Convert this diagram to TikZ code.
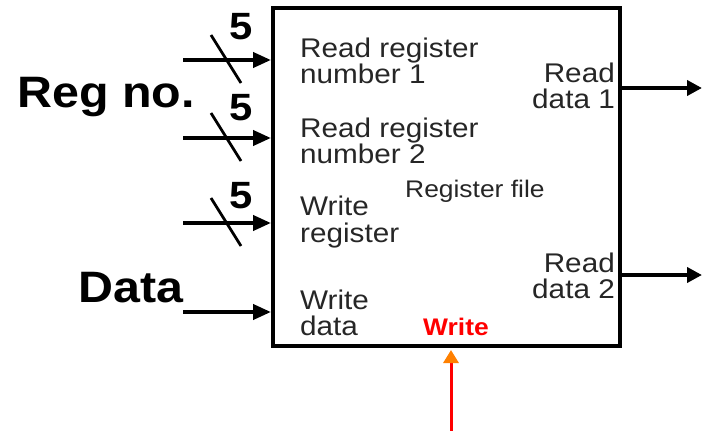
\documentclass[tikz,border=0pt]{standalone}
\usepackage{fontspec}
\setmainfont{Liberation Sans}[FakeStretch=1.1]
\usetikzlibrary{arrows.meta, positioning}

\begin{document}
\begin{tikzpicture}[x=1pt,y=-1pt,line join=miter,
    bus/.style={-{Triangle[length=18pt,width=15pt]}, line width=4pt},
    outbus/.style={-{Triangle[length=15pt,width=15pt]}, line width=4pt},
    port/.style={font=\fontsize{27}{26.5}\selectfont, text=black!85, inner sep=0pt},
    biglabel/.style={font=\fontsize{44}{44}\selectfont\bfseries, inner sep=0pt},
    bits/.style={font=\fontsize{38}{38}\selectfont\bfseries, inner sep=0pt}]
    \useasboundingbox (0,0) rectangle (702,431);

    % the register file itself
    \node[draw, line width=4pt, minimum width=347pt, minimum height=338pt, inner sep=0pt] (rf) at (446.5,177) {};
    \node[font=\fontsize{24}{24}\selectfont, text=black!85, anchor=west, inner sep=0pt] (title) at (405,191) {Register file};

    % 5-bit register number inputs
    \foreach \n/\y/\fy in {1/60/27, 2/138/108, 3/223/196} {
      \coordinate (in\n) at (183,\y);
      \draw[bus] (in\n) -- (in\n -| rf.west);
      \draw[line width=2.8pt] ([shift={(28,-25)}]in\n) -- ([shift={(58,23)}]in\n); % bus width slash
      \node[bits] (w\n) at (241,\fy) {5};
    }

    % data input
    \coordinate (in4) at (183,312);
    \draw[bus] (in4) -- (in4 -| rf.west);

    % left labels
    \node[biglabel] (regno) at (106,97) {Reg no.};
    \node[biglabel, anchor=east] (data) at (184,288) {Data};

    % port names inside the box
    \node[port, align=left, anchor=west] (rr1) at (300,61) {Read register\\number 1};
    \node[port, align=left, anchor=west] (rr2) at (300,141) {Read register\\number 2};
    \node[port, align=left, anchor=west] (wreg) at (300,222) {Write\\register};
    \node[port, align=left, anchor=west] (wdat) at (300,313) {Write\\data};
    \node[port, align=right, anchor=east] (rd1) at (615,86) {Read\\data 1};
    \node[port, align=right, anchor=east] (rd2) at (615,276) {Read\\data 2};

    % outputs
    \coordinate (out1) at (702,88);
    \coordinate (out2) at (702,275);
    \draw[outbus] (out1 -| rf.east) -- (out1);
    \draw[outbus] (out2 -| rf.east) -- (out2);

    % write control
    \node[font=\fontsize{24}{24}\selectfont\bfseries, text=red, inner sep=0pt] (wlbl) at (456,327) {Write};
    \coordinate (wr) at (451,431);
    \draw[red, line width=3pt, -{Triangle[length=13pt,width=15pt,color=orange]}, shorten >=2pt] (wr) -- (wr |- rf.south);

\end{tikzpicture}
\end{document}
